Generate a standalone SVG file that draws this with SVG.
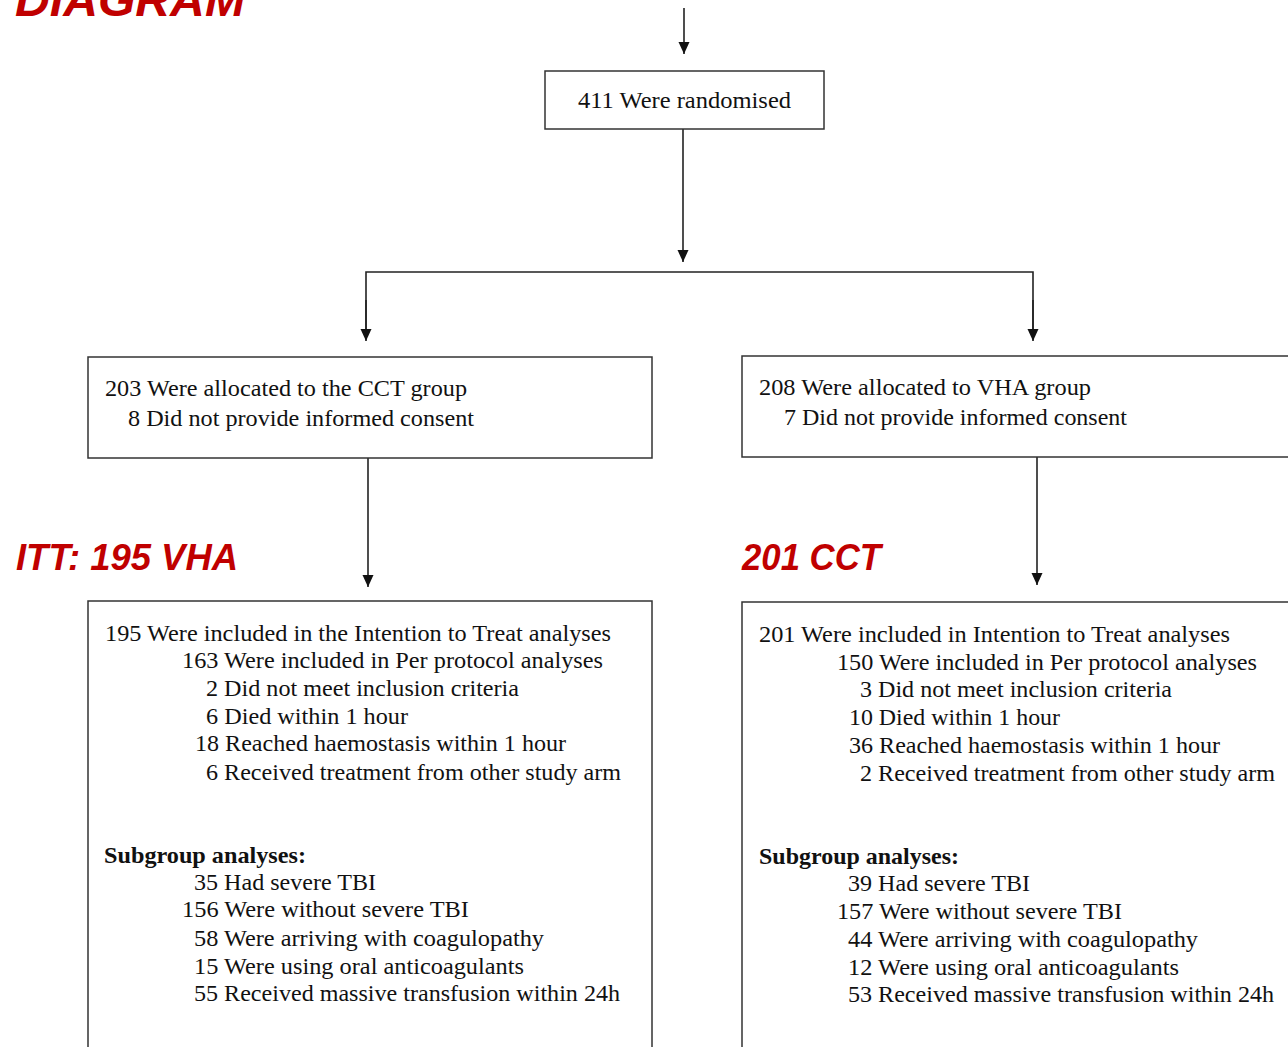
<svg xmlns="http://www.w3.org/2000/svg" width="1288" height="1047" viewBox="0 0 1288 1047">
<style>
.box{fill:#fff;stroke:#333;stroke-width:1.5}
.t{font-family:"Liberation Serif","Times New Roman",serif;font-size:23px;fill:#111}
.b{font-weight:bold}
.red{font-family:"Liberation Sans",Arial,sans-serif;font-weight:bold;font-style:italic;fill:#C00000}
.ln{fill:none;stroke:#222;stroke-width:1.6}
</style>
<defs>
<marker id="ah" markerUnits="userSpaceOnUse" markerWidth="14" markerHeight="14" viewBox="0 0 14 14" refX="12" refY="7" orient="auto">
<path d="M0,1.5 L12,7 L0,12.5 Z" fill="#111"/>
</marker>
</defs>
<rect width="1288" height="1047" fill="#fff"/>
<text class="red" x="15" y="16" font-size="46" textLength="230" lengthAdjust="spacingAndGlyphs">DIAGRAM</text>
<text class="red" x="16" y="570" font-size="37" textLength="222" lengthAdjust="spacingAndGlyphs">ITT: 195 VHA</text>
<text class="red" x="742" y="570" font-size="37" textLength="139" lengthAdjust="spacingAndGlyphs">201 CCT</text>
<g id="connectors">
<line class="ln" x1="684" y1="8" x2="684" y2="54" marker-end="url(#ah)"/>
<line class="ln" x1="683" y1="129" x2="683" y2="262" marker-end="url(#ah)"/>
<polyline class="ln" points="366,330 366,272 1033,272 1033,330"/>
<line class="ln" x1="366" y1="300" x2="366" y2="341" marker-end="url(#ah)"/>
<line class="ln" x1="1033" y1="300" x2="1033" y2="341" marker-end="url(#ah)"/>
<line class="ln" x1="368" y1="458" x2="368" y2="587" marker-end="url(#ah)"/>
<line class="ln" x1="1037" y1="457" x2="1037" y2="585" stroke-width="2.6" marker-end="url(#ah)"/>
</g>
<g id="randomised">
<rect class="box" x="545" y="71" width="279" height="58"/>
<text class="t" x="578" y="108" textLength="213" lengthAdjust="spacingAndGlyphs">411 Were randomised</text>
</g>
<g id="alloc-cct">
<rect class="box" x="88" y="357" width="564" height="101"/>
<text class="t" x="105" y="396" textLength="362" lengthAdjust="spacingAndGlyphs">203 Were allocated to the CCT group</text>
<text class="t" x="128" y="426" textLength="346" lengthAdjust="spacingAndGlyphs">8 Did not provide informed consent</text>
</g>
<g id="alloc-vha">
<rect class="box" x="742" y="356" width="560" height="101"/>
<text class="t" x="759" y="395" textLength="332" lengthAdjust="spacingAndGlyphs">208 Were allocated to VHA group</text>
<text class="t" x="784" y="425" textLength="343" lengthAdjust="spacingAndGlyphs">7 Did not provide informed consent</text>
</g>
<g id="itt-left">
<rect class="box" x="88" y="601" width="564" height="460"/>
<text class="t" x="105" y="641" textLength="506" lengthAdjust="spacingAndGlyphs">195 Were included in the Intention to Treat analyses</text>
<text class="t" x="182" y="668" textLength="421" lengthAdjust="spacingAndGlyphs">163 Were included in Per protocol analyses</text>
<text class="t" x="206" y="696" textLength="313" lengthAdjust="spacingAndGlyphs">2 Did not meet inclusion criteria</text>
<text class="t" x="206" y="724" textLength="202" lengthAdjust="spacingAndGlyphs">6 Died within 1 hour</text>
<text class="t" x="195" y="751" textLength="371" lengthAdjust="spacingAndGlyphs">18 Reached haemostasis within 1 hour</text>
<text class="t" x="206" y="780" textLength="415" lengthAdjust="spacingAndGlyphs">6 Received treatment from other study arm</text>
<text class="t b" x="104" y="863" textLength="202" lengthAdjust="spacingAndGlyphs">Subgroup analyses:</text>
<text class="t" x="194" y="890" textLength="182" lengthAdjust="spacingAndGlyphs">35 Had severe TBI</text>
<text class="t" x="182" y="917" textLength="287" lengthAdjust="spacingAndGlyphs">156 Were without severe TBI</text>
<text class="t" x="194" y="946" textLength="350" lengthAdjust="spacingAndGlyphs">58 Were arriving with coagulopathy</text>
<text class="t" x="194" y="974" textLength="330" lengthAdjust="spacingAndGlyphs">15 Were using oral anticoagulants</text>
<text class="t" x="194" y="1001" textLength="426" lengthAdjust="spacingAndGlyphs">55 Received massive transfusion within 24h</text>
</g>
<g id="itt-right">
<rect class="box" x="742" y="602" width="560" height="460"/>
<text class="t" x="759" y="642" textLength="471" lengthAdjust="spacingAndGlyphs">201 Were included in Intention to Treat analyses</text>
<text class="t" x="837" y="670" textLength="420" lengthAdjust="spacingAndGlyphs">150 Were included in Per protocol analyses</text>
<text class="t" x="860" y="697" textLength="312" lengthAdjust="spacingAndGlyphs">3 Did not meet inclusion criteria</text>
<text class="t" x="849" y="725" textLength="211" lengthAdjust="spacingAndGlyphs">10 Died within 1 hour</text>
<text class="t" x="849" y="753" textLength="371" lengthAdjust="spacingAndGlyphs">36 Reached haemostasis within 1 hour</text>
<text class="t" x="860" y="781" textLength="415" lengthAdjust="spacingAndGlyphs">2 Received treatment from other study arm</text>
<text class="t b" x="759" y="864" textLength="200" lengthAdjust="spacingAndGlyphs">Subgroup analyses:</text>
<text class="t" x="848" y="891" textLength="182" lengthAdjust="spacingAndGlyphs">39 Had severe TBI</text>
<text class="t" x="837" y="919" textLength="285" lengthAdjust="spacingAndGlyphs">157 Were without severe TBI</text>
<text class="t" x="848" y="947" textLength="350" lengthAdjust="spacingAndGlyphs">44 Were arriving with coagulopathy</text>
<text class="t" x="848" y="975" textLength="331" lengthAdjust="spacingAndGlyphs">12 Were using oral anticoagulants</text>
<text class="t" x="848" y="1002" textLength="426" lengthAdjust="spacingAndGlyphs">53 Received massive transfusion within 24h</text>
</g>
</svg>
